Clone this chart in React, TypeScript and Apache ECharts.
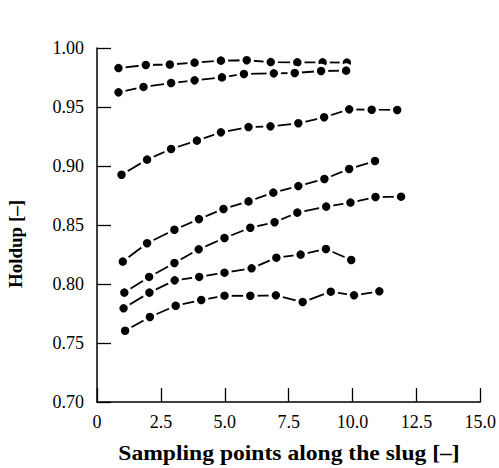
import React, { useEffect, useRef } from "react";
import * as echarts from "echarts";

const xTicks = [0, 2.5, 5, 7.5, 10, 12.5, 15];
const yTicks = [0.7, 0.75, 0.8, 0.85, 0.9, 0.95, 1.0];

const xA = [0.84, 1.91, 2.85, 3.82, 4.85, 5.86, 6.8, 7.84, 8.83, 9.78];
const yA = [0.983, 0.9856, 0.986, 0.9876, 0.9893, 0.9896, 0.988, 0.9878, 0.9878, 0.9876];

const xB = [0.84, 1.82, 2.9, 3.82, 4.89, 5.75, 6.92, 7.74, 8.77, 9.75];
const yB = [0.9624, 0.967, 0.9703, 0.9726, 0.9751, 0.978, 0.9785, 0.9788, 0.9805, 0.9808];

const xC = [0.96, 1.96, 2.9, 3.91, 4.85, 5.93, 6.79, 7.88, 8.89, 9.87, 10.75, 11.75];
const yC = [0.8926, 0.9054, 0.9144, 0.9215, 0.9285, 0.933, 0.9336, 0.9362, 0.9413, 0.948, 0.9477, 0.9475];

const xD = [1.01, 1.96, 3.03, 3.99, 4.95, 5.93, 6.9, 7.88, 8.9, 9.87, 10.88];
const yD = [0.819, 0.8345, 0.846, 0.855, 0.8636, 0.87, 0.8774, 0.883, 0.889, 0.8975, 0.9042];

const xE = [1.07, 2.04, 3.03, 3.98, 4.99, 6.0, 6.95, 7.84, 8.97, 9.92, 10.9, 11.9];
const yE = [0.7927, 0.806, 0.8178, 0.8294, 0.839, 0.8477, 0.8523, 0.8605, 0.8656, 0.869, 0.8737, 0.874];

const xF = [1.04, 2.05, 3.04, 4.0, 4.99, 6.05, 7.02, 7.97, 8.96, 9.95];
const yF = [0.7794, 0.7927, 0.8031, 0.806, 0.8096, 0.8133, 0.8223, 0.8249, 0.8297, 0.8203];

const xG = [1.1, 2.07, 3.08, 4.08, 4.99, 6.0, 7.0, 8.05, 9.15, 10.06, 11.05];
const yG = [0.7604, 0.772, 0.7816, 0.7864, 0.7901, 0.79, 0.7904, 0.7847, 0.7935, 0.7904, 0.7938];

const seriesX = [xA, xB, xC, xD, xE, xF, xG];
const seriesY = [yA, yB, yC, yD, yE, yF, yG];

const xTitle = "Sampling points along the slug [–]";
const yTitle = "Holdup [–]";

const FONT = "'Liberation Serif', 'Times New Roman', serif";

export default function App() {
  const ref = useRef<HTMLDivElement>(null);
  useEffect(() => {
    if (!ref.current) return;
    const chart = echarts.init(ref.current, null, { renderer: "svg" });
    const series = seriesX.map((xs, i) => ({
      type: "line",
      data: xs.map((x, j) => [x, seriesY[i][j]]),
      symbol: "circle",
      symbolSize: 11.5,
      lineStyle: { color: "#000", width: 1.8 },
      itemStyle: { color: "#000", borderColor: "#fff", borderWidth: 3 },
      z: 2,
    }));
    chart.setOption({
      animation: false,
      backgroundColor: "#fff",
      grid: { left: 97, right: 17, top: 48, bottom: 66, containLabel: false },
      xAxis: {
        type: "value",
        min: 0,
        max: 15,
        interval: 2.5,
        axisLine: { show: true, onZero: false, lineStyle: { color: "#000", width: 1.5 } },
        axisTick: { show: true, inside: true, length: 14, lineStyle: { color: "#000", width: 1.3 } },
        splitLine: { show: false },
        axisLabel: {
          margin: 11,
          color: "#000",
          fontFamily: FONT,
          fontSize: 18,
          formatter: (v: number) => (v === 0 ? "0" : v.toFixed(1)),
        },
      },
      yAxis: {
        type: "value",
        min: 0.7,
        max: 1.0,
        interval: 0.05,
        axisLine: { show: true, lineStyle: { color: "#000", width: 1.5 } },
        axisTick: { show: true, inside: true, length: 14, lineStyle: { color: "#000", width: 1.3 } },
        splitLine: { show: false },
        axisLabel: {
          margin: 13,
          color: "#000",
          fontFamily: FONT,
          fontSize: 18,
          formatter: (v: number) => v.toFixed(2),
        },
      },
      graphic: [
        {
          type: "text",
          x: 289,
          y: 454,
          scaleX: 1.18,
          style: {
            text: xTitle,
            fontFamily: FONT,
            fontSize: 20,
            fontWeight: "bold",
            fill: "#000",
            align: "center",
            verticalAlign: "middle",
          },
        },
        {
          type: "text",
          x: 15,
          y: 244,
          rotation: Math.PI / 2,
          style: {
            text: yTitle,
            fontFamily: FONT,
            fontSize: 19,
            fontWeight: "bold",
            fill: "#000",
            align: "center",
            verticalAlign: "middle",
          },
        },
      ],
      series,
    });
    return () => chart.dispose();
  }, []);
  return (
    <div
      ref={ref}
      style={{ position: "fixed", left: 0, top: 0, width: 499, height: 468 }}
    />
  );
}
